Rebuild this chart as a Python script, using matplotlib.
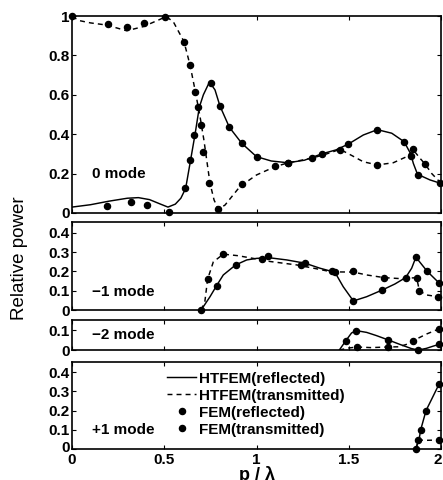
import numpy as np
import matplotlib
matplotlib.use('Agg')
import matplotlib.pyplot as plt
import matplotlib.transforms as mtransforms
from matplotlib.lines import Line2D

plt.rcParams['font.family'] = ['Liberation Sans', 'DejaVu Sans']

# ---- 0 mode ----
m0_ref_x = [0, 0.1, 0.2, 0.3, 0.36, 0.42, 0.48, 0.52, 0.56, 0.59, 0.616, 0.643, 0.667, 0.69,
            0.712, 0.745, 0.775, 0.802, 0.853, 0.92, 1.0, 1.08, 1.17, 1.26, 1.353, 1.43, 1.498,
            1.579, 1.655, 1.733, 1.80, 1.836, 1.85, 1.872, 1.9, 1.94, 2.0]
m0_ref_y = [0.03, 0.042, 0.06, 0.075, 0.078, 0.068, 0.045, 0.03, 0.045, 0.075, 0.125, 0.27, 0.40,
            0.537, 0.60, 0.665, 0.625, 0.543, 0.435, 0.354, 0.286, 0.264, 0.255, 0.268, 0.30, 0.32,
            0.35, 0.396, 0.423, 0.405, 0.362, 0.30, 0.252, 0.198, 0.185, 0.168, 0.15]
m0_tra_x = [0, 0.043, 0.1, 0.188, 0.296, 0.386, 0.477, 0.51, 0.549, 0.607, 0.64, 0.667, 0.694,
            0.715, 0.73, 0.748, 0.77, 0.793, 0.829, 0.911, 1.0, 1.1, 1.172, 1.299, 1.38, 1.453,
            1.52, 1.579, 1.655, 1.741, 1.814, 1.85, 1.886, 1.913, 1.95, 2.0]
m0_tra_y = [0.997, 0.976, 0.965, 0.954, 0.925, 0.946, 0.983, 0.997, 0.971, 0.87, 0.75, 0.624,
            0.489, 0.37, 0.27, 0.151, 0.066, 0.02, 0.04, 0.135, 0.193, 0.235, 0.255, 0.278, 0.30,
            0.323, 0.29, 0.26, 0.244, 0.255, 0.286, 0.32, 0.278, 0.249, 0.20, 0.151]
m0_fem_ref_x = [0.19, 0.318, 0.405, 0.527, 0.612, 0.64, 0.663, 0.685, 0.752, 0.802, 0.853, 0.92,
                1.0, 1.172, 1.353, 1.498, 1.655, 1.80, 1.836, 1.877, 1.995]
m0_fem_ref_y = [0.037, 0.057, 0.041, 0.006, 0.128, 0.27, 0.396, 0.537, 0.661, 0.543, 0.435, 0.354,
                0.286, 0.255, 0.30, 0.35, 0.421, 0.362, 0.289, 0.193, 0.151]
m0_fem_tra_x = [0.0, 0.193, 0.296, 0.39, 0.504, 0.607, 0.64, 0.667, 0.697, 0.712, 0.742, 0.793,
                0.92, 1.10, 1.172, 1.299, 1.453, 1.655, 1.85, 1.913]
m0_fem_tra_y = [1.0, 0.958, 0.943, 0.963, 0.997, 0.87, 0.75, 0.616, 0.447, 0.311, 0.151, 0.02,
                0.147, 0.239, 0.255, 0.278, 0.32, 0.244, 0.323, 0.249]

# ---- -1 mode ----
m1_ref_x = [0.70, 0.748, 0.784, 0.82, 0.887, 0.947, 1.0, 1.064, 1.164, 1.263, 1.344, 1.425,
            1.47, 1.525, 1.597, 1.682, 1.75, 1.808, 1.841, 1.864, 1.926, 1.991]
m1_ref_y = [0.0, 0.069, 0.127, 0.182, 0.234, 0.26, 0.268, 0.272, 0.26, 0.243, 0.217, 0.196,
            0.121, 0.047, 0.069, 0.104, 0.135, 0.168, 0.217, 0.274, 0.20, 0.139]
m1_tra_x = [0.70, 0.72, 0.735, 0.766, 0.82, 0.90, 1.0, 1.073, 1.218, 1.32, 1.407, 1.525,
            1.597, 1.693, 1.78, 1.868, 1.883, 1.922, 1.985]
m1_tra_y = [0.0, 0.043, 0.16, 0.25, 0.29, 0.282, 0.265, 0.252, 0.234, 0.215, 0.198, 0.197,
            0.182, 0.168, 0.163, 0.168, 0.099, 0.078, 0.069]
m1_fem_ref_x = [0.70, 0.784, 0.887, 1.064, 1.263, 1.425, 1.525, 1.682, 1.808, 1.864, 1.926, 1.991]
m1_fem_ref_y = [0.0, 0.127, 0.234, 0.278, 0.243, 0.196, 0.047, 0.104, 0.168, 0.274, 0.20, 0.139]
m1_fem_tra_x = [0.735, 0.82, 1.031, 1.239, 1.407, 1.525, 1.693, 1.868, 1.883, 1.985]
m1_fem_tra_y = [0.16, 0.29, 0.264, 0.234, 0.203, 0.20, 0.168, 0.168, 0.099, 0.069]

# ---- -2 mode ----
m2_ref_x = [1.449, 1.483, 1.515, 1.54, 1.597, 1.65, 1.715, 1.78, 1.84, 1.877, 1.92, 1.96, 1.99]
m2_ref_y = [0.0, 0.045, 0.085, 0.097, 0.088, 0.072, 0.05, 0.027, 0.007, 0.0, 0.008, 0.02, 0.028]
m2_tra_x = [1.449, 1.5, 1.545, 1.62, 1.712, 1.77, 1.82, 1.85, 1.922, 1.988]
m2_tra_y = [0.0, 0.01, 0.015, 0.012, 0.015, 0.016, 0.03, 0.047, 0.08, 0.105]
m2_fem_ref_x = [1.483, 1.54, 1.715, 1.877, 1.99]
m2_fem_ref_y = [0.045, 0.097, 0.05, 0.0, 0.028]
m2_fem_tra_x = [1.545, 1.712, 1.85, 1.988]
m2_fem_tra_y = [0.015, 0.015, 0.047, 0.105]

# ---- +1 mode ----
p1_ref_x = [1.864, 1.883, 1.89, 1.919, 1.95, 1.991]
p1_ref_y = [0.0, 0.06, 0.10, 0.20, 0.26, 0.34]
p1_tra_x = [1.864, 1.877, 1.92, 1.991]
p1_tra_y = [0.0, 0.047, 0.045, 0.047]
p1_fem_ref_x = [1.864, 1.89, 1.919, 1.991]
p1_fem_ref_y = [0.0, 0.10, 0.20, 0.34]
p1_fem_tra_x = [1.877, 1.991]
p1_fem_tra_y = [0.047, 0.047]

x_ticks = [0, 0.5, 1, 1.5, 2]
x_ticklabels = ['0', '0.5', '1', '1.5', '2']

panels = [
    ('0 mode', (m0_ref_x, m0_ref_y), (m0_tra_x, m0_tra_y), (m0_fem_ref_x, m0_fem_ref_y),
     (m0_fem_tra_x, m0_fem_tra_y), 1.0, [0, 0.2, 0.4, 0.6, 0.8, 1], ['0', '0.2', '0.4', '0.6', '0.8', '1'], 0.2),
    ('\u22121 mode', (m1_ref_x, m1_ref_y), (m1_tra_x, m1_tra_y), (m1_fem_ref_x, m1_fem_ref_y),
     (m1_fem_tra_x, m1_fem_tra_y), 0.457, [0, 0.1, 0.2, 0.3, 0.4], ['0', '0.1', '0.2', '0.3', '0.4'], 0.2),
    ('\u22122 mode', (m2_ref_x, m2_ref_y), (m2_tra_x, m2_tra_y), (m2_fem_ref_x, m2_fem_ref_y),
     (m2_fem_tra_x, m2_fem_tra_y), 0.15, [0, 0.1], ['0', '0.1'], 0.5),
    ('+1 mode', (p1_ref_x, p1_ref_y), (p1_tra_x, p1_tra_y), (p1_fem_ref_x, p1_fem_ref_y),
     (p1_fem_tra_x, p1_fem_tra_y), 0.452, [0, 0.1, 0.2, 0.3, 0.4], ['0', '0.1', '0.2', '0.3', '0.4'], 0.215),
]

# axes boxes in pixels: (top, bottom)
W, H = 443, 480
boxes = [(16, 213), (222, 310), (320, 350), (362, 449)]
left_px, right_px = 72, 441

fig = plt.figure(figsize=(W / 100, H / 100), dpi=100)
fs = 11
lw = 1.05
ms = 4.4
dash = (3.4, 2.8)

def shift(lbl, dx, dy):
    lbl.set_transform(lbl.get_transform() + mtransforms.ScaledTranslation(dx / 100, dy / 100, fig.dpi_scale_trans))

axes = []
for (label, ref, tra, fref, ftra, ytop, yt, ytl, ly), (top, bot) in zip(panels, boxes):
    ax = fig.add_axes([left_px / W, 1 - bot / H, (right_px - left_px) / W, (bot - top) / H])
    ax.plot(ref[0], ref[1], '-', color='black', lw=lw)
    ax.plot(tra[0], tra[1], '--', color='black', lw=lw, dashes=dash)
    ax.plot(fref[0], fref[1], 'o', color='black', ms=ms, clip_on=False)
    ax.plot(ftra[0], ftra[1], 'o', color='black', ms=ms, clip_on=False)
    ax.set_xlim(0, 2)
    ax.set_ylim(0, ytop)
    ax.set_yticks(yt)
    ax.set_yticklabels(ytl, fontsize=fs, fontweight='bold')
    ax.set_xticks(x_ticks)
    ax.tick_params(direction='in', length=3, width=0.8, top=True, right=True, pad=1.5)
    ax.set_xticklabels([])
    for s in ax.spines.values():
        s.set_linewidth(1.2)
    ax.text(0.053, ly, label, transform=ax.transAxes, fontsize=fs, fontweight='bold', va='center')
    axes.append(ax)

axes[-1].set_xticklabels(x_ticklabels, fontsize=fs, fontweight='bold')
axes[-1].tick_params(axis='x', pad=3)
# the last x label sits against the right edge, the bottom-left "0"s touch
shift(axes[-1].get_xticklabels()[-1], -3, 0)
shift(axes[-1].get_yticklabels()[0], 0, 3)

handles = [Line2D([], [], color='black', lw=lw),
           Line2D([], [], color='black', lw=lw, ls='--', dashes=dash),
           Line2D([], [], color='black', marker='o', ms=ms, ls='none'),
           Line2D([], [], color='black', marker='o', ms=ms, ls='none')]
labels = ['HTFEM(reflected)', 'HTFEM(transmitted)', 'FEM(reflected)', 'FEM(transmitted)']
leg = axes[-1].legend(handles, labels, loc='upper left', bbox_to_anchor=(0.258, 0.89),
                      frameon=False, fontsize=fs, handlelength=1.9, handletextpad=0.2,
                      labelspacing=0.2, borderpad=0, borderaxespad=0)
for t in leg.get_texts():
    t.set_fontweight('bold')

fig.text(20 / W, 1 - 258 / H, 'Relative power', rotation=90, fontsize=13.5,
         ha='center', va='center')
fig.text(257 / W, 1 - 466 / H, 'p / \u03bb', fontsize=13, fontweight='bold',
         ha='center', va='top')

fig.savefig('out.png', dpi=100)
